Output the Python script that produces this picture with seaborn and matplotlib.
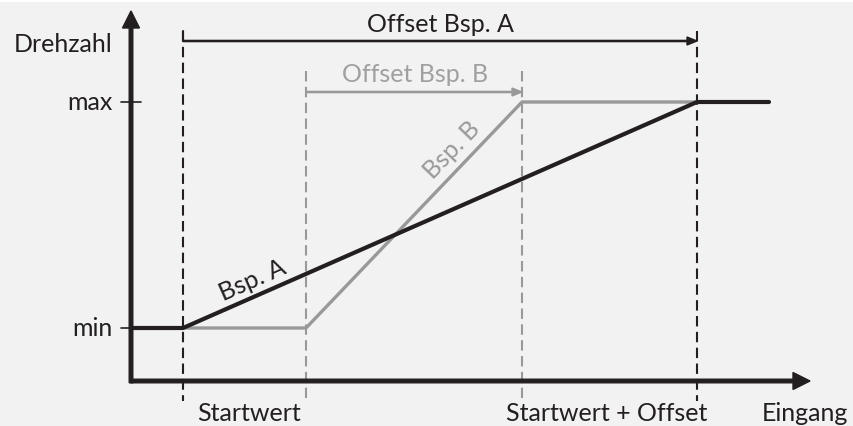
import matplotlib
matplotlib.use("Agg")
import matplotlib.pyplot as plt
import seaborn as sns
import pandas as pd

# --- data (schematic coordinates) ---
# x positions: axis origin, Startwert A, Startwert B, Startwert B + Offset B, Startwert A + Offset A, line end
x_origin = 131
x_start_a = 183
x_start_b = 306
x_end_b = 522
x_end_a = 697
x_line_end = 769
x_axis_end = 810
# y positions: min, max, axis baseline, axis top
y_min = 329
y_max = 103
y_axis = 382
y_axis_top = 12

bsp_a_x = [x_origin, x_start_a, x_end_a, x_line_end]
bsp_a_y = [y_min, y_min, y_max, y_max]
bsp_b_x = [x_start_a, x_start_b, x_end_b, x_end_a]
bsp_b_y = [y_min, y_min, y_max, y_max]

BLACK = "#231f20"
GRAY = "#999999"
BG = "#f2f2f2"
FONT = "Lato"
FS = 18

sns.set_theme(style="white")
plt.rcParams["font.family"] = [FONT, "DejaVu Sans"]

fig = plt.figure(figsize=(8.54, 4.27), dpi=100, facecolor=BG)
ax = fig.add_axes([0, 0, 1, 1])
ax.set_facecolor(BG)

df_b = pd.DataFrame({"x": bsp_b_x, "y": bsp_b_y})
df_a = pd.DataFrame({"x": bsp_a_x, "y": bsp_a_y})

# white strip at top
ax.axhspan(0, 3, color="white", lw=0, zorder=0)

# dashed guides
for xv, col, top in [(x_start_a, BLACK, 32), (x_end_a, BLACK, 32),
                     (x_start_b, GRAY, 72), (x_end_b, GRAY, 72)]:
    ax.plot([xv, xv], [top, 402], color=col, lw=1.5, ls=(0, (5, 2.6)), zorder=1)

sns.lineplot(data=df_b, x="x", y="y", ax=ax, color=GRAY, lw=2.4, sort=False,
             estimator=None, zorder=3)
sns.lineplot(data=df_a, x="x", y="y", ax=ax, color=BLACK, lw=3.0, sort=False,
             estimator=None, zorder=4)
ax.set_xlim(0, 854)
ax.set_ylim(427, 0)
ax.axis("off")

# axes with arrows
ax.arrow(x_origin, y_axis, x_axis_end - x_origin, 0, width=3.6, head_width=17,
         head_length=17, length_includes_head=True, color=BLACK, zorder=5)
ax.arrow(x_origin, y_axis + 1.8, 0, y_axis_top - y_axis - 1.8, width=3.6, head_width=17,
         head_length=17, length_includes_head=True, color=BLACK, zorder=5)

# ticks
for yv in (y_min, y_max):
    ax.plot([121, 141], [yv, yv], color=BLACK, lw=1.2, zorder=5)

# offset arrows
ax.plot([x_start_a, x_start_a], [32, 42], color=BLACK, lw=1.5)
ax.arrow(x_start_a, 42, x_end_a - x_start_a, 0, width=1.2, head_width=8,
         head_length=10, length_includes_head=True, color=BLACK, zorder=5)
ax.arrow(x_start_b, 93, x_end_b - x_start_b, 0, width=1.2, head_width=8,
         head_length=10, length_includes_head=True, color=GRAY, zorder=5)

# texts
ax.text(440, 24, "Offset Bsp. A", ha="center", va="center", fontsize=FS, color=BLACK)
ax.text(415, 74, "Offset Bsp. B", ha="center", va="center", fontsize=FS, color="#a0a0a0")
ax.text(113, 45, "Drehzahl", ha="right", va="center", fontsize=FS, color=BLACK)
ax.text(113, 103, "max", ha="right", va="center", fontsize=FS, color=BLACK)
ax.text(113, 329, "min", ha="right", va="center", fontsize=FS, color=BLACK)
ax.text(249, 414, "Startwert", ha="center", va="center", fontsize=FS, color=BLACK)
ax.text(607, 414, "Startwert + Offset", ha="center", va="center", fontsize=FS, color=BLACK)
ax.text(805, 414, "Eingang", ha="center", va="center", fontsize=FS, color=BLACK)
ax.text(252, 280, "Bsp. A", ha="center", va="center", fontsize=FS, color=BLACK,
        rotation=23.7, rotation_mode="anchor")
ax.text(452, 150, "Bsp. B", ha="center", va="center", fontsize=FS, color=GRAY,
        rotation=46, rotation_mode="anchor")

fig.savefig("out.png", dpi=100, facecolor=BG)
